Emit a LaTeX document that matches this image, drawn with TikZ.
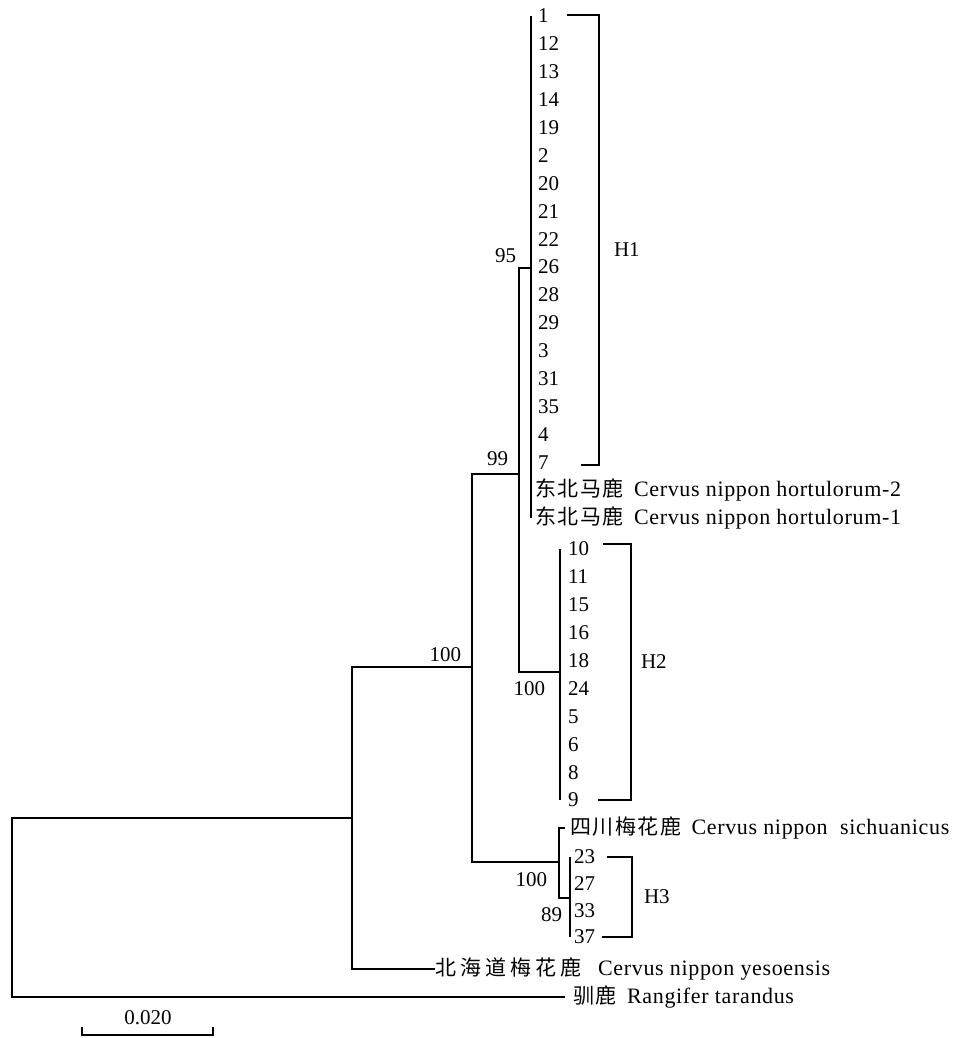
\documentclass[tikz,border=0pt]{standalone}
\usepackage{fontspec}
\setmainfont{Liberation Serif}
\newfontfamily\cjk[LetterSpace=7]{Noto Sans CJK SC}
\newfontfamily\cjkwide[LetterSpace=19]{Noto Sans CJK SC}
\newfontfamily\latsp[LetterSpace=3]{Liberation Serif}
\usetikzlibrary{positioning}
\newcommand{\taxon}[3][\cjk]{{#1 #2}\hspace{0.5em}{\latsp\fontsize{11}{12}\selectfont #3}}

\begin{document}
\begin{tikzpicture}[x=0.5pt, y=-0.5pt, line width=1pt,
    leaf/.style={anchor=west, inner sep=0pt, text height=0.68em, text depth=0pt,
      font=\fontsize{10.5}{12}\selectfont},
    boot/.style={inner sep=1pt, font=\fontsize{10.5}{12}\selectfont},
    clade/.style={anchor=west, inner sep=0pt, font=\fontsize{10.5}{12}\selectfont}]

    \useasboundingbox (0,0) rectangle (956,1038);

    % Internal nodes
    \coordinate (root) at (12,907);
    \coordinate (nA) at (352,818);
    \coordinate (nB) at (472,667);
    \coordinate (nC) at (519,474);
    \coordinate (nH1) at (531,268);
    \coordinate (nH2) at (560,672);
    \coordinate (nS) at (559,862);
    \coordinate (nH3) at (570,898);

    % H1 leaves
    \foreach \lab [count=\i from 0] in {1,12,13,14,19,2,20,21,22,26,28,29,3,31,35,4,7} {
        \coordinate (t1-\i) at (531,16+27.9*\i);
        \node[leaf, right=3pt of t1-\i] (h1-\i) {\lab};
        \draw (nH1) |- (t1-\i);
    }
    \coordinate (t-hort2) at (531,490);
    \coordinate (t-hort1) at (531,518);
    \node[leaf, right=-1.5pt of t-hort2] (hort2) {\taxon{东北马鹿}{Cervus nippon hortulorum-2}};
    \node[leaf, right=-1.5pt of t-hort1] (hort1) {\taxon{东北马鹿}{Cervus nippon hortulorum-1}};
    \draw (nH1) |- (t-hort2);
    \draw (nH1) |- (t-hort1);

    % H2 leaves
    \foreach \lab [count=\i from 0] in {10,11,15,16,18,24,5,6,8,9} {
        \coordinate (t2-\i) at (560,549+27.9*\i);
        \node[leaf, right=3.5pt of t2-\i] (h2-\i) {\lab};
        \draw (nH2) |- (t2-\i);
    }

    % H3 leaves
    \foreach \lab [count=\i from 0] in {23,27,33,37} {
        \coordinate (t3-\i) at (570,857+26.7*\i);
        \node[leaf, right=1.5pt of t3-\i] (h3-\i) {\lab};
        \draw (nH3) |- (t3-\i);
    }

    % Other taxa
    \coordinate (t-sic) at (565,828);
    \coordinate (t-yes) at (435,969);
    \coordinate (t-tar) at (565,997);
    \node[leaf, right=-1pt of t-sic] (sic) {\taxon{四川梅花鹿}{Cervus nippon\ \ sichuanicus}};
    \node[leaf, right=-4.5pt of t-yes] (yes) {\taxon[\cjkwide]{北海道梅花鹿}{\hspace{3pt}Cervus nippon yesoensis}};
    \node[leaf, right=0.5pt of t-tar] (tar) {\taxon{驯鹿}{Rangifer tarandus}};

    % Branches
    \draw (root) |- (nA);
    \draw (root) |- (t-tar);
    \draw (nA) |- (nB);
    \draw (nA) |- (t-yes);
    \draw (nB) |- (nC);
    \draw (nB) |- (nS);
    \draw (nC) |- (nH1);
    \draw (nC) |- (nH2);
    \draw (nS) |- (t-sic);
    \draw (nS) |- (nH3);

    % Bootstrap values
    \node[boot, above left=1pt and 6pt of nH1] (b95) {95};
    \node[boot, above left=2.5pt and 4pt of nC] (b99) {99};
    \node[boot, above left=1pt and 4pt of nB] (b100a) {100};
    \node[boot, below left=3.5pt and 6pt of nH2] (b100b) {100};
    \node[boot, below left=4pt and 4.5pt of nS] (b100c) {100};
    \node[boot, below left=3.5pt and 2.5pt of nH3] (b89) {89};

    % Clade brackets
    \draw (567,15) -| (599,465) -- (581,465);
    \node[clade] (H1) at (613,250) {H1};
    \draw (603,544) -| (631,800) -- (598,800);
    \node[clade] (H2) at (640,662) {H2};
    \draw (607,857) -| (632,937) -- (602,937);
    \node[clade] (H3) at (643,897) {H3};

    % Scale bar
    \draw (82,1027) |- (213,1035) -- (213,1027);
    \node[boot] (scale) at (148,1018) {0.020};

\end{tikzpicture}
\end{document}
